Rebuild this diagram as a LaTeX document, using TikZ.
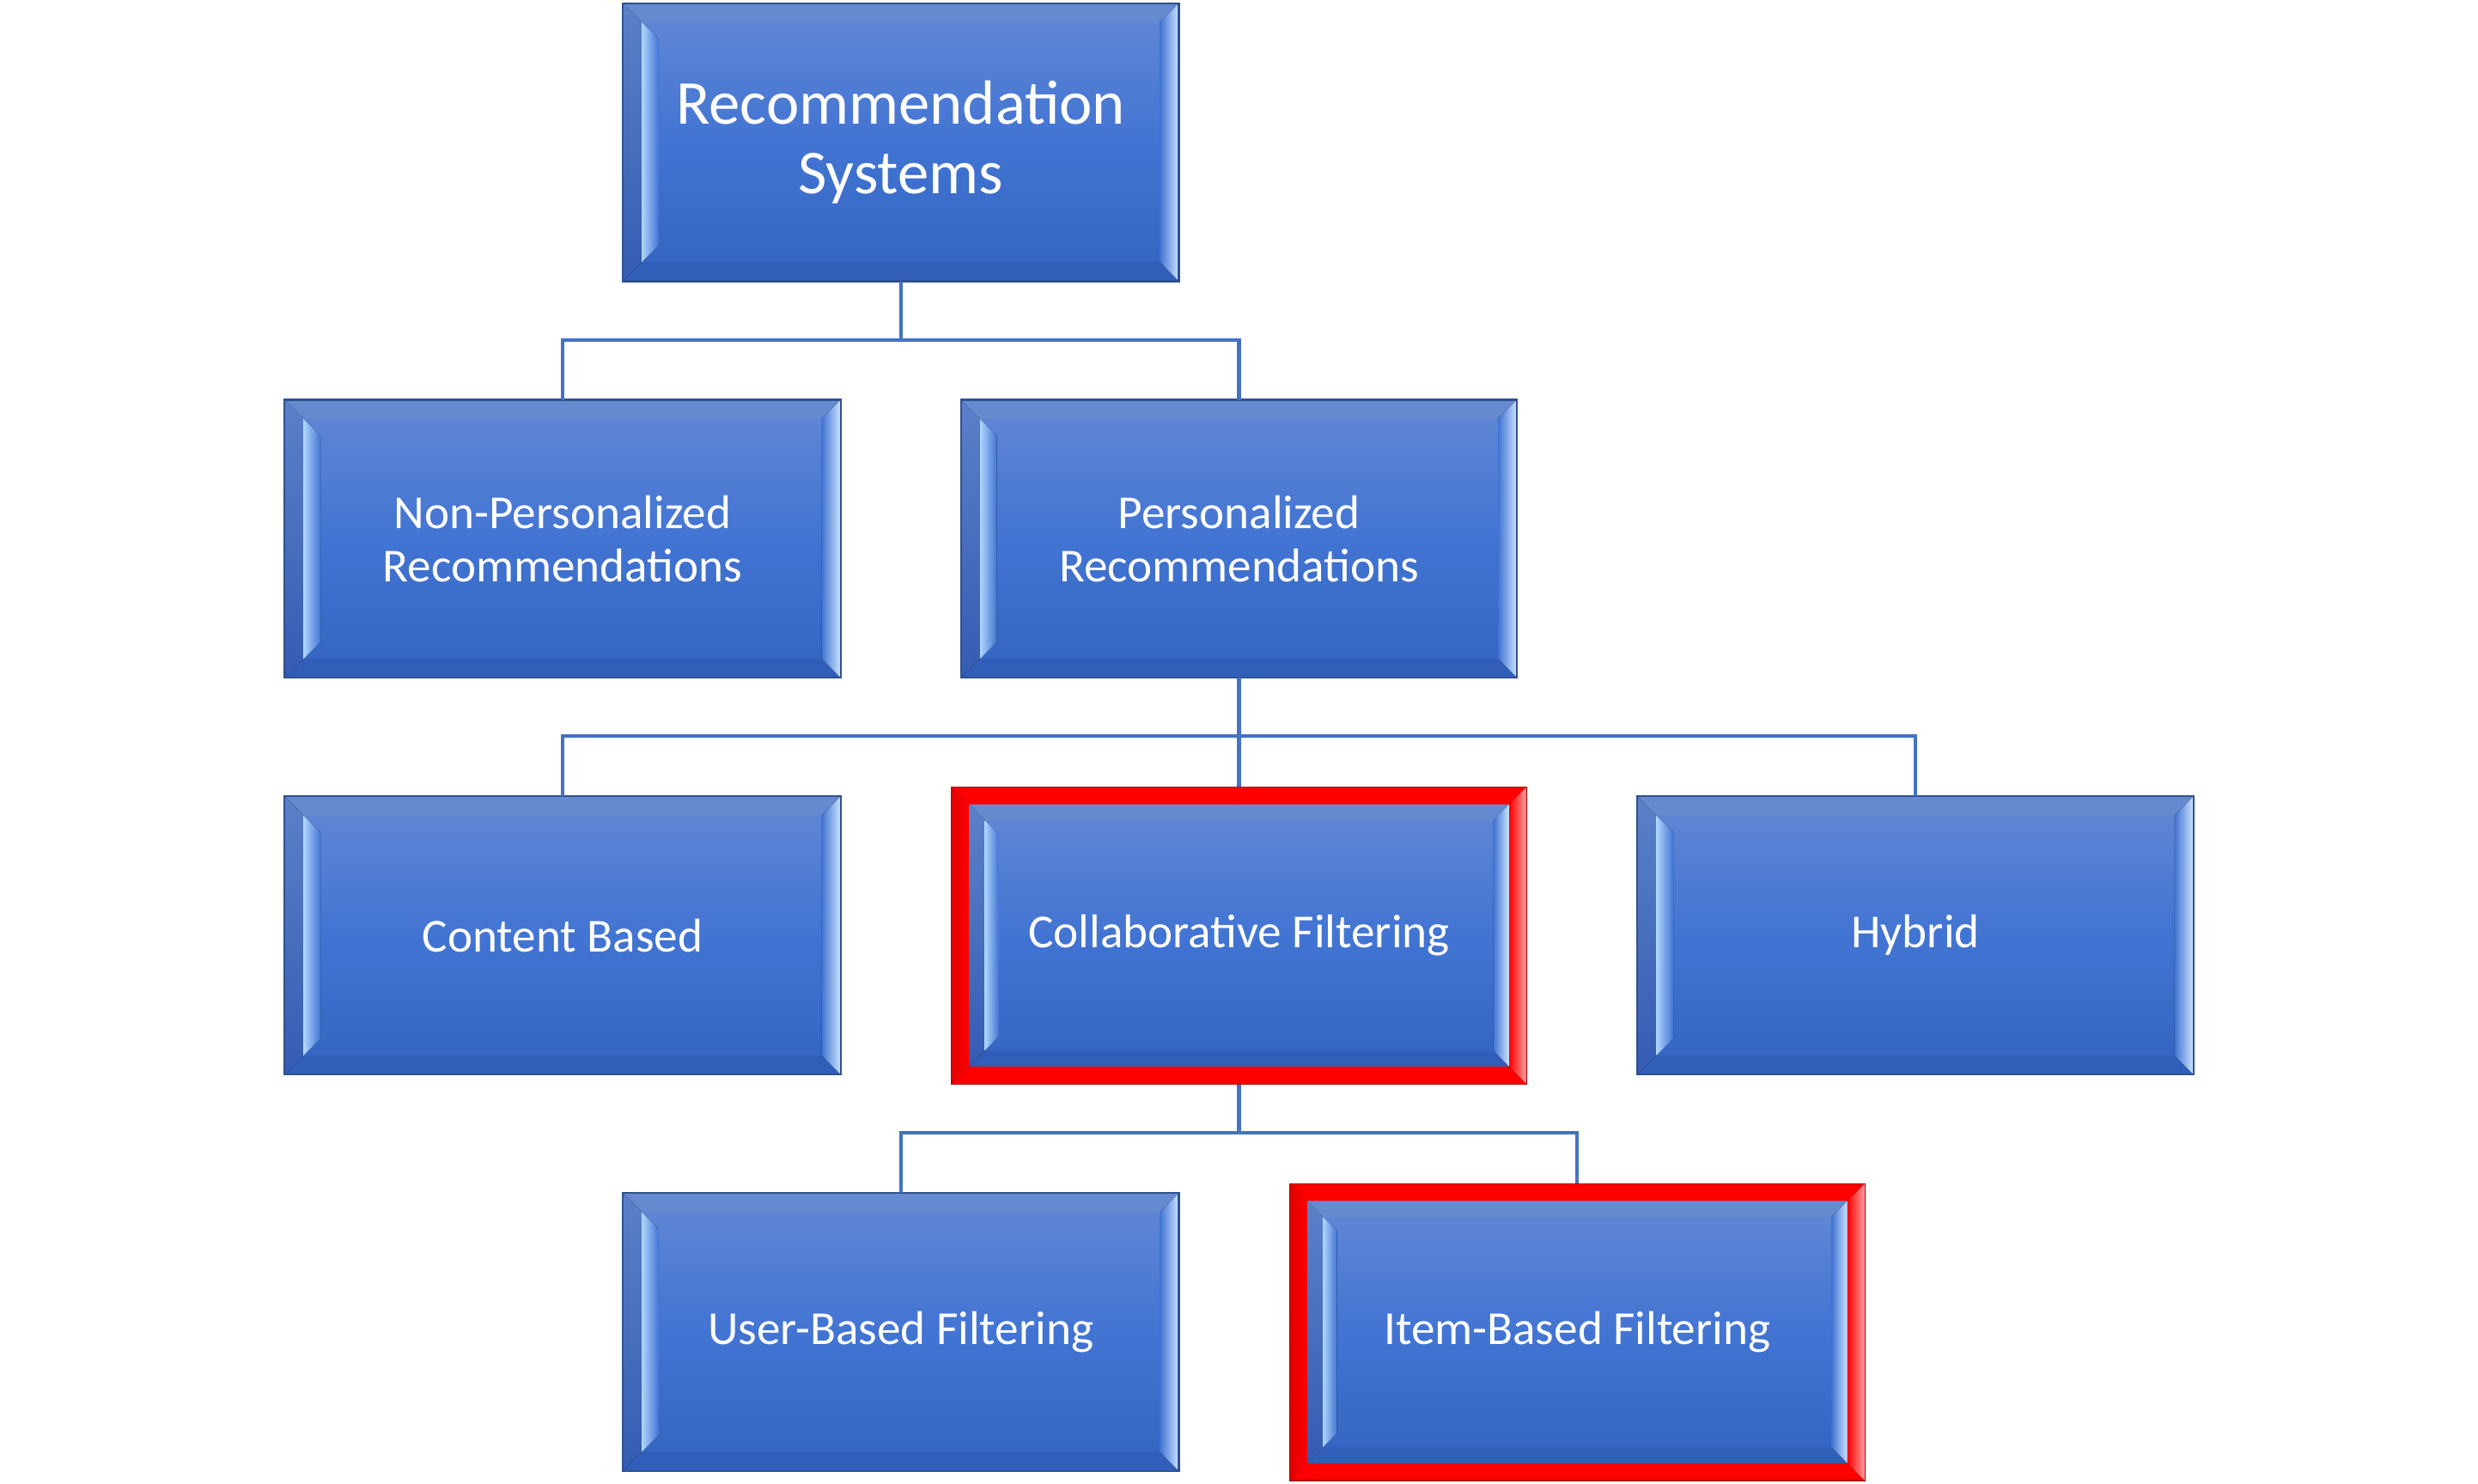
\documentclass[tikz,border=0pt]{standalone}
\usepackage{fontspec}
\setmainfont{Carlito}
\usetikzlibrary{calc}
\definecolor{bxtop}{RGB}{98,136,212}
\definecolor{bxmid}{RGB}{66,116,211}
\definecolor{bxbot}{RGB}{51,100,192}
\definecolor{bxbdr}{RGB}{47,82,143}
\definecolor{cnline}{RGB}{68,114,196}
\definecolor{lightbv}{RGB}{175,215,255}
\definecolor{rightbv}{RGB}{205,228,255}
\definecolor{lfacetop}{RGB}{92,128,200}
\definecolor{lfacebot}{RGB}{52,92,178}
\definecolor{tface}{RGB}{102,138,208}
\definecolor{bface}{RGB}{48,94,184}
\definecolor{hired}{RGB}{255,0,0}
\definecolor{hidark}{RGB}{225,0,0}
\definecolor{hipink}{RGB}{255,160,160}
\definecolor{hiedge}{RGB}{170,0,0}
\tikzset{
  box/.style={rectangle, minimum width=352pt, minimum height=176pt, inner sep=0pt, outer sep=0pt,
    draw=bxbdr, line width=1.2pt, top color=bxtop, bottom color=bxbot, middle color=bxmid,
    text=white, align=center, font=\fontsize{30}{34}\selectfont},
  rootbox/.style={box, font=\fontsize{39.5}{44}\selectfont},
  hibox/.style={box, minimum width=342pt, minimum height=166pt, draw=none},
  conn/.style={draw=cnline, line width=2.2pt},
}
% bevel faces of a box: #1 node name, #2 depth
\newcommand\bvl[2]{%
  \fill[tface] (#1.north west) -- (#1.north east) -- ([shift={(-#2,#2)}]#1.north east) -- ([shift={(#2,#2)}]#1.north west) -- cycle;
  \fill[bface] (#1.south west) -- (#1.south east) -- ([shift={(-#2,-#2)}]#1.south east) -- ([shift={(#2,-#2)}]#1.south west) -- cycle;
  \fill[top color=lfacetop, bottom color=lfacebot] (#1.north west) -- ([shift={(#2,#2)}]#1.north west) -- ([shift={(#2,-#2)}]#1.south west) -- (#1.south west) -- cycle;
  \fill[left color=lightbv, right color=bxmid] ([shift={(#2,#2)}]#1.north west) -- ([shift={(1.9*#2,1.9*#2)}]#1.north west) -- ([shift={(1.9*#2,-1.9*#2)}]#1.south west) -- ([shift={(#2,-#2)}]#1.south west) -- cycle;
  \fill[left color=bxmid, right color=rightbv] (#1.north east) -- ([shift={(-#2,#2)}]#1.north east) -- ([shift={(-#2,-#2)}]#1.south east) -- (#1.south east) -- cycle;
}
\newcommand\bdr[1]{\draw[bxbdr, line width=1.2pt] (#1.north west) rectangle (#1.south east);}
% red highlight frame: #1 node name, #2 thickness
\newcommand\redframe[2]{%
  \fill[hired] ([shift={(-#2,-#2)}]#1.north west) -- ([shift={(#2,-#2)}]#1.north east) -- (#1.north east) -- (#1.north west) -- cycle;
  \fill[hired] ([shift={(-#2,#2)}]#1.south west) -- ([shift={(#2,#2)}]#1.south east) -- (#1.south east) -- (#1.south west) -- cycle;
  \fill[left color=hidark, right color=hired] ([shift={(-#2,-#2)}]#1.north west) -- ([shift={(-#2,#2)}]#1.south west) -- (#1.south west) -- (#1.north west) -- cycle;
  \fill[left color=hired, right color=hipink] ([shift={(#2,-#2)}]#1.north east) -- ([shift={(#2,#2)}]#1.south east) -- (#1.south east) -- (#1.north east) -- cycle;
  \draw[hiedge, line width=0.6pt] ([shift={(-#2,-#2)}]#1.north west) rectangle ([shift={(#2,#2)}]#1.south east);
}
\begin{document}
\begin{tikzpicture}[x=1pt, y=-1pt]
  \useasboundingbox (0,0) rectangle (1568,939);
  % nodes
  \node[rootbox] (root) at (570,90) {Recommendation\\Systems};
  \node[box] (nonp) at (356,341) {Non-Personalized\\Recommendations};
  \node[box] (pers) at (784,341) {Personalized\\Recommendations};
  \node[box] (cont) at (356,592) {Content Based};
  \node[hibox] (coll) at (784,592) {Collaborative Filtering};
  \node[box] (hyb) at (1212,592) {Hybrid};
  \node[box] (user) at (570,843) {User-Based Filtering};
  \node[hibox] (item) at (998,843) {Item-Based Filtering};
  % bevels
  \bvl{root}{12}\bdr{root}
  \bvl{nonp}{12}\bdr{nonp}
  \bvl{pers}{12}\bdr{pers}
  \bvl{cont}{12}\bdr{cont}
  \bvl{hyb}{12}\bdr{hyb}
  \bvl{user}{12}\bdr{user}
  \bvl{coll}{10}
  \bvl{item}{10}
  % connectors
  \coordinate (b1) at (570,215);
  \coordinate (b2) at (784,466);
  \coordinate (b3) at (784,717);
  \draw[conn] (root.south) -- (b1) -| (nonp.north);
  \draw[conn] (b1) -| (pers.north);
  \draw[conn] (pers.south) -- (b2) -| (cont.north);
  \draw[conn] (b2) -- (coll.north);
  \draw[conn] (b2) -| (hyb.north);
  \draw[conn] (coll.south) -- (b3) -| (user.north);
  \draw[conn] (b3) -| (item.north);
  % red highlight frames
  \redframe{coll}{11}
  \redframe{item}{11}
\end{tikzpicture}
\end{document}
